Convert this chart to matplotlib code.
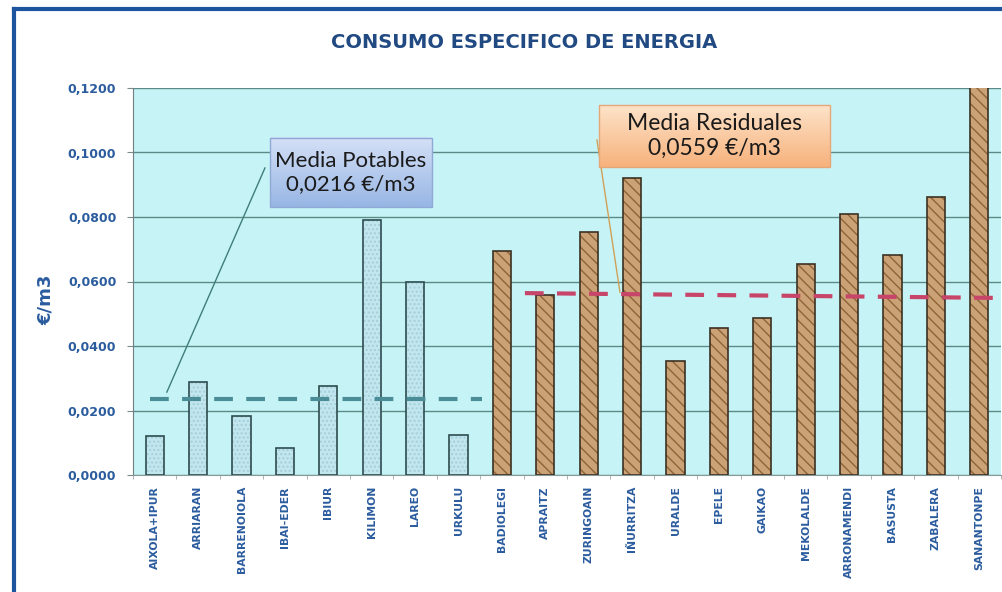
import numpy as np
import matplotlib
matplotlib.use("Agg")
import matplotlib.pyplot as plt
from matplotlib.lines import Line2D
from matplotlib.patches import Rectangle

# ----------------------------------------------------------------------------
# Data
# ----------------------------------------------------------------------------
POTABLES = ["AIXOLA+IPUR", "ARRIARAN", "BARRENOIOLA", "IBAI-EDER", "IBIUR",
            "KILIMON", "LAREO", "URKULU"]
POTABLES_VAL = [0.0122, 0.0289, 0.0182, 0.0083, 0.0276, 0.0790, 0.0600, 0.0124]

RESIDUALES = ["BADIOLEGI", "APRAITZ", "ZURINGOAIN", "IÑURRITZA", "URALDE",
              "EPELE", "GAIKAO", "MEKOLALDE", "ARRONAMENDI", "BASUSTA",
              "ZABALERA", "SANANTONPE"]
RESIDUALES_VAL = [0.0696, 0.0558, 0.0754, 0.0920, 0.0353, 0.0457, 0.0486,
                  0.0653, 0.0810, 0.0682, 0.0863, 0.1215]

# mean lines as drawn (the labels quote the stated means)
MEAN_POT_LABEL = "0,0216 €/m3"
MEAN_RES_LABEL = "0,0559 €/m3"
MEAN_POT_LINE = [0.0235, 0.0235]
MEAN_RES_LINE = [0.0564, 0.0549]

Y_TICKS = [0.0, 0.02, 0.04, 0.06, 0.08, 0.10, 0.12]

TITLE = "CONSUMO ESPECIFICO DE ENERGIA"

# ----------------------------------------------------------------------------
# Styling
# ----------------------------------------------------------------------------
BLUE_TXT = "#2b5c9e"
GRID_C = "#5b8b88"
BG_C = "#c6f4f6"

fig = plt.figure(figsize=(10.02, 5.92), dpi=100)
ax = fig.add_axes([133 / 1002, 1 - 475 / 592, 868 / 1002, 387 / 592])
ax.set_facecolor(BG_C)

cats = POTABLES + RESIDUALES
n_pot = len(POTABLES)
x_pot = np.arange(n_pot)
x_res = np.arange(n_pot, len(cats))
W = 0.42

# potable bars: light blue speckled
ax.bar(x_pot, POTABLES_VAL, width=W, color="#c2e6ee", edgecolor="#a3cfdb",
       hatch="....", lw=0, zorder=2)
ax.bar(x_pot, POTABLES_VAL, width=W, fill=False, edgecolor="#2e4d4f",
       lw=1.2, zorder=3)
# residual bars: brown textured
ax.bar(x_res, RESIDUALES_VAL, width=W, color="#cba276", edgecolor="#8d6337",
       hatch="\\\\\\", lw=0, zorder=2)
ax.bar(x_res, RESIDUALES_VAL, width=W, fill=False, edgecolor="#3b3122",
       lw=1.2, zorder=3)

# mean lines
ax.plot([-0.11, 7.54], MEAN_POT_LINE, color="#4b8d96", lw=3,
        dashes=(4.5, 3.2), zorder=4)
ax.plot([8.53, 19.5], MEAN_RES_LINE, color="#c8456a", lw=3,
        dashes=(4.5, 3.2), zorder=4)

# axes / grid
ax.set_xlim(-0.5, len(cats) - 0.5)
ax.set_ylim(0, 0.12)
ax.set_yticks(Y_TICKS)
ax.set_yticklabels([f"{v:.4f}".replace(".", ",") for v in Y_TICKS])
ax.yaxis.grid(True, color=GRID_C, lw=1.0, zorder=1)
ax.set_axisbelow(True)
ax.set_xticks(np.arange(len(cats)))
ax.set_xticklabels(cats, rotation=90, va="top", ha="center")
ax.set_xticks(np.arange(len(cats) + 1) - 0.5, minor=True)
ax.tick_params(axis="x", which="major", length=0, pad=8)
ax.tick_params(axis="x", which="minor", length=3, color="#9aa8a8")
ax.tick_params(axis="y", length=4, color="#7a8a8a", pad=8)
for lab in ax.get_xticklabels():
    lab.set_fontsize(7.8)
    lab.set_fontweight("bold")
    lab.set_color(BLUE_TXT)
for lab in ax.get_yticklabels():
    lab.set_fontsize(9)
    lab.set_fontweight("bold")
    lab.set_color(BLUE_TXT)
for s in ["top", "right"]:
    ax.spines[s].set_visible(False)
ax.spines["left"].set_color("#6f7f7f")
ax.spines["bottom"].set_color("#8a9a9a")


def grad_box(x0, x1, y0, y1, top, bottom, edge):
    c0 = np.array(matplotlib.colors.to_rgb(top))
    c1 = np.array(matplotlib.colors.to_rgb(bottom))
    t = np.linspace(0, 1, 64)[:, None, None]
    img = c0 * (1 - t) + c1 * t
    ax.imshow(img, extent=(x0, x1, y0, y1), aspect="auto", origin="upper",
              zorder=6)
    ax.add_patch(Rectangle((x0, y0), x1 - x0, y1 - y0, fill=False,
                           edgecolor=edge, lw=1.0, zorder=7))


# callout: potables
ax.plot([2.54, 0.28], [0.0952, 0.0257], color="#3f7d7a", lw=1.0, zorder=5)
grad_box(2.66, 6.39, 0.0831, 0.1045, "#d4e0f6", "#98b6e4", "#8fa8d6")
ax.text((2.66 + 6.39) / 2, (0.0831 + 0.1045) / 2,
        "Media Potables\n" + MEAN_POT_LABEL, ha="center", va="center",
        fontsize=16, family="Lato", color="#1a1a1a", linespacing=1.2,
        zorder=8)

# callout: residuales
ax.plot([10.19, 10.72], [0.1039, 0.0567], color="#d0a058", lw=1.0, zorder=5)
grad_box(10.24, 15.56, 0.0955, 0.1147, "#fde3c9", "#f7b27c", "#e6a678")
ax.text((10.24 + 15.56) / 2, (0.0955 + 0.1147) / 2,
        "Media Residuales\n" + MEAN_RES_LABEL, ha="center", va="center",
        fontsize=16.5, family="Lato", color="#1a1a1a", linespacing=1.2,
        zorder=8)

ax.set_xlim(-0.5, len(cats) - 0.5)
ax.set_ylim(0, 0.12)

# title and y label
fig.text(524 / 1002, 1 - 42 / 592, TITLE, ha="center", va="center",
         fontsize=14, fontweight="bold", color="#214a82")
fig.text(46 / 1002, 1 - 300 / 592, "€/m3", rotation=90, ha="center",
         va="center", fontsize=13, fontweight="bold", color=BLUE_TXT)

# outer blue frame (left and top edges visible)
fx, fy = 14 / 1002, 1 - 9 / 592
fig.add_artist(Line2D([fx, fx], [0, fy], transform=fig.transFigure,
                      color="#1c559e", lw=3))
fig.add_artist(Line2D([fx, 1], [fy, fy], transform=fig.transFigure,
                      color="#1c559e", lw=3))

fig.savefig("out.png", dpi=100)
